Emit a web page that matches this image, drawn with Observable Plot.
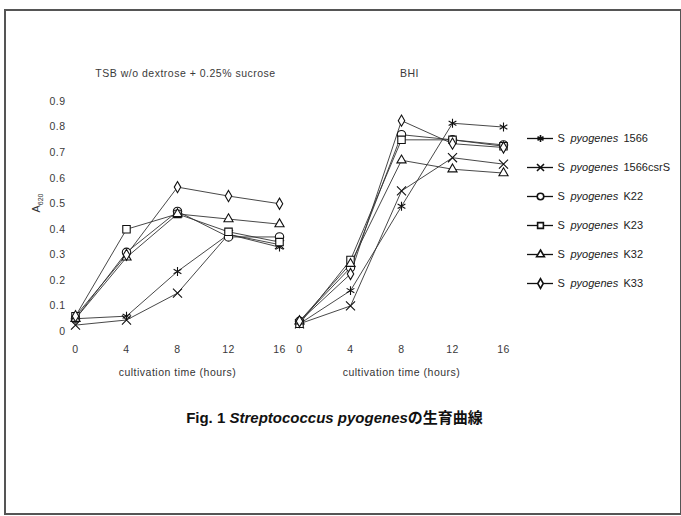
<!DOCTYPE html>
<html><head><meta charset="utf-8">
<script src="https://cdn.jsdelivr.net/npm/d3@7"></script>
<script src="https://cdn.jsdelivr.net/npm/@observablehq/plot@0.6"></script>
<style>
html,body{margin:0;padding:0;background:#fff;}
#page{position:relative;width:681px;height:516px;overflow:hidden;font-family:"Liberation Sans",Arial,sans-serif;color:#222;}
#frame{position:absolute;left:4px;top:9px;width:674px;height:502px;border:2px solid #555;}
#chart{position:absolute;left:0;top:0;}
#legend{position:absolute;left:520px;top:120px;}
#ylabel{position:absolute;left:37px;top:203px;transform:translate(-50%,-50%) rotate(-90deg);font-size:11px;color:#333;white-space:nowrap;}
#ylabel sub{font-size:7px;}
#caption{position:absolute;left:-6px;width:681px;top:406px;text-align:center;font-weight:bold;font-size:15px;color:#111;}
#caption .jp{font-family:"Noto Sans CJK JP",sans-serif;}
</style></head>
<body><div id="page"><div id="frame"></div><div id="chart"></div><div id="legend"></div>
<div id="ylabel">A<sub>620</sub></div>
<div id="caption">Fig. 1 <i>Streptococcus pyogenes</i><span class="jp">の生育曲線</span></div></div>
<script>
const hours = [0, 4, 8, 12, 16];
const strains = ["1566", "1566csrS", "K22", "K23", "K32", "K33"];
const media = ["TSB w/o dextrose + 0.25% sucrose", "BHI"];
const symbols = ["asterisk", "times", "circle", "square", "triangle", "diamond"];
const yTicks = [0, 0.1, 0.2, 0.3, 0.4, 0.5, 0.6, 0.7, 0.8, 0.9];
const xTicks = [0, 4, 8, 12, 16];
// rows follow strains order; columns follow hours
const tsbValues = [
  [0.05, 0.06, 0.235, 0.38, 0.33],
  [0.025, 0.045, 0.15, 0.38, 0.34],
  [0.05, 0.31, 0.47, 0.37, 0.37],
  [0.06, 0.40, 0.46, 0.39, 0.35],
  [0.05, 0.29, 0.46, 0.44, 0.42],
  [0.06, 0.30, 0.565, 0.53, 0.50]
];
const bhiValues = [
  [0.03, 0.16, 0.49, 0.815, 0.80],
  [0.03, 0.10, 0.55, 0.68, 0.655],
  [0.04, 0.25, 0.77, 0.75, 0.73],
  [0.03, 0.28, 0.75, 0.75, 0.725],
  [0.04, 0.265, 0.67, 0.635, 0.62],
  [0.04, 0.225, 0.825, 0.735, 0.72]
];

const rows = [];
[tsbValues, bhiValues].forEach((tbl, mi) => {
  tbl.forEach((vals, si) => {
    vals.forEach((v, hi) => rows.push({medium: media[mi], strain: strains[si], hour: hours[hi], value: v}));
  });
});
const small = new Set(["K32", "K33"]);

const font = "Liberation Sans, Arial, sans-serif";
const chart = Plot.plot({
  width: 681, height: 392,
  marginLeft: 75, marginRight: 178, marginTop: 101, marginBottom: 61,
  style: {fontFamily: font, fontSize: "10.5px", color: "#3a3a3a", background: "transparent", letterSpacing: "0.5px"},
  fx: {domain: media, paddingInner: 0.0893, paddingOuter: 0},
  x: {domain: [0, 16], ticks: xTicks, tickSize: 0, tickPadding: 14, label: null},
  y: {domain: [0, 0.9], ticks: yTicks, tickSize: 0, tickPadding: 10,
      tickFormat: d => d === 0 ? "0" : d.toFixed(1), label: null},
  symbol: {domain: strains, range: symbols},
  marks: [
    Plot.axisFx({anchor: "top", tickSize: 0, tickPadding: 25, label: null, dx: 8}),
    Plot.line(rows, {fx: "medium", x: "hour", y: "value", z: "strain", stroke: "#333", strokeWidth: 0.9}),
    Plot.dot(rows.filter(d => !small.has(d.strain)), {fx: "medium", x: "hour", y: "value", symbol: "strain", r: 4.2, fill: "white", stroke: "#111", strokeWidth: 1.1}),
    Plot.dot(rows.filter(d => small.has(d.strain)), {fx: "medium", x: "hour", y: "value", symbol: "strain", r: 3.4, fill: "white", stroke: "#111", strokeWidth: 1.1}),
    Plot.text(["cultivation time (hours)"], {frameAnchor: "bottom", dy: 44, fill: "#333"})
  ]
});
document.getElementById("chart").appendChild(chart);

const legend = Plot.plot({
  width: 161, height: 180, margin: 0,
  style: {fontFamily: font, fontSize: "11px", color: "#222", background: "transparent"},
  x: {domain: [0, 161], range: [0, 161], axis: null},
  y: {type: "point", domain: strains, range: [17, 163], padding: 0, axis: null},
  symbol: {domain: strains, range: symbols},
  marks: [
    Plot.ruleY(strains, {y: d => d, x1: 7, x2: 33, stroke: "#111", strokeWidth: 1.3}),
    Plot.dot(strains, {x: 20, y: d => d, symbol: d => d, r: d => small.has(d) ? 3 : 3.8, fill: "white", stroke: "#111", strokeWidth: 1.6}),
    Plot.text(strains, {x: 37, y: d => d, text: () => "S", textAnchor: "start", fill: "#222"}),
    Plot.text(strains, {x: 50, y: d => d, text: () => "pyogenes", textAnchor: "start", fontStyle: "italic", fill: "#222"}),
    Plot.text(strains, {x: 103, y: d => d, text: d => d, textAnchor: "start", fill: "#222"})
  ]
});
document.getElementById("legend").appendChild(legend);
</script></body></html>
